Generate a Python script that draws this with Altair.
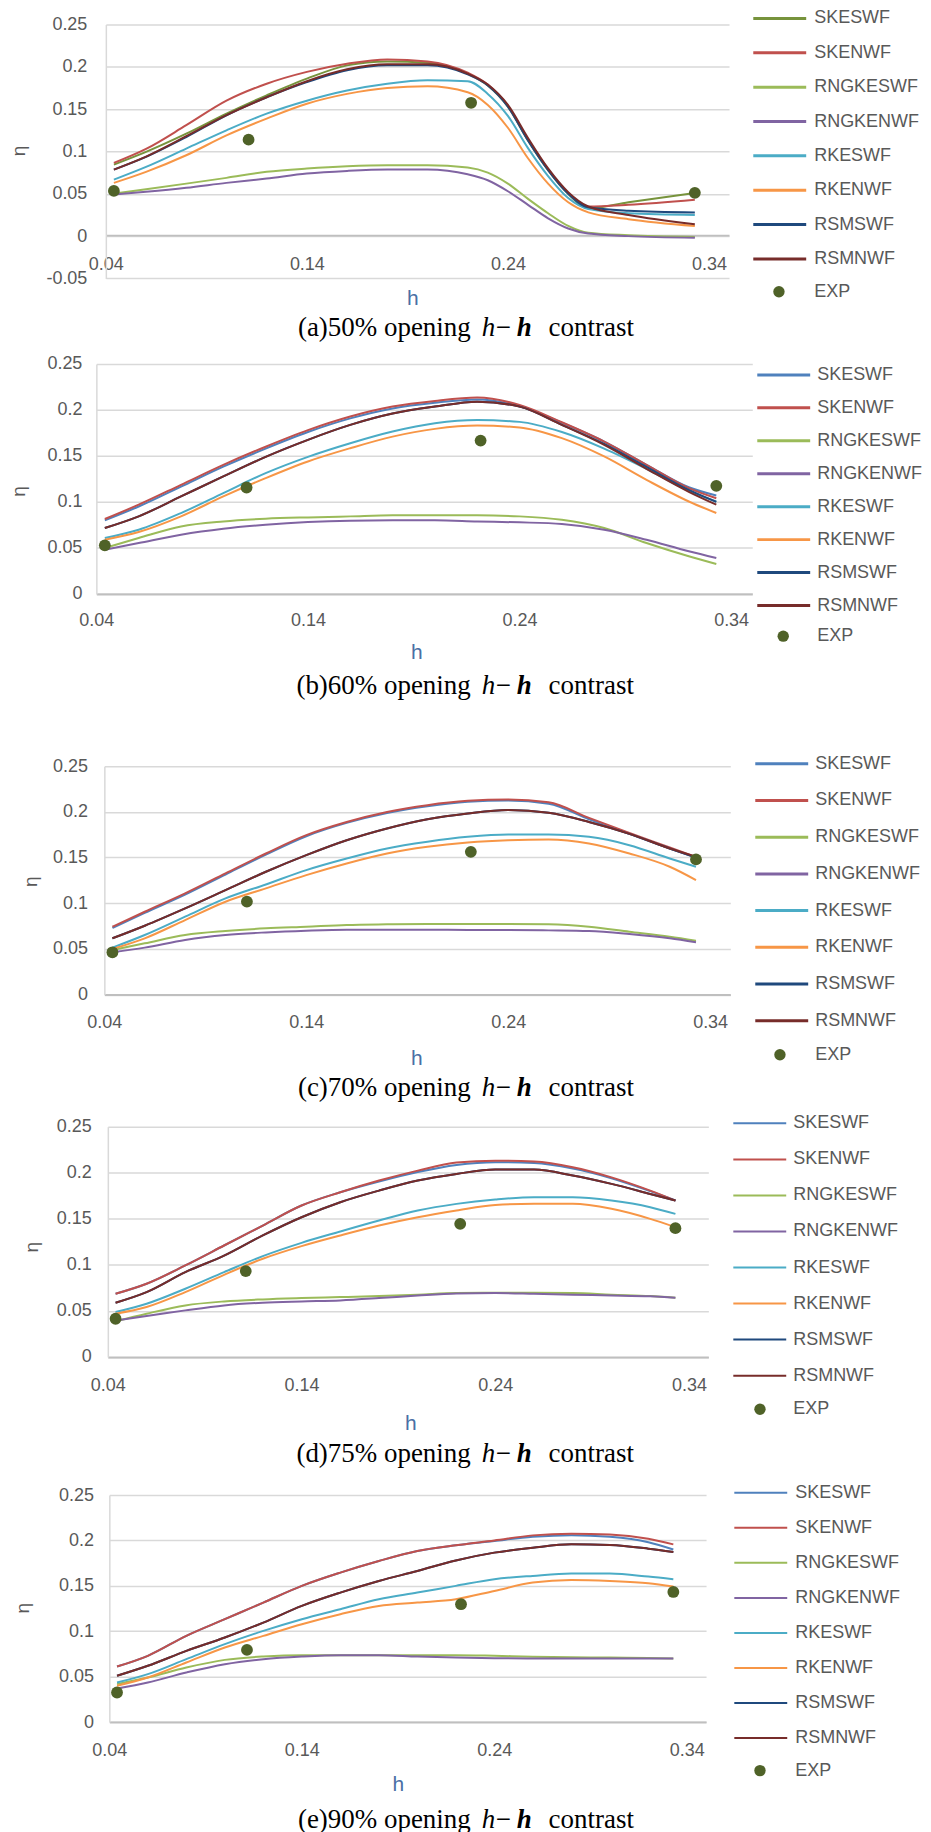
import math
import altair as alt
import pandas as pd

# ---------------- data ----------------
MODELS = ["SKESWF", "SKENWF", "RNGKESWF", "RNGKENWF", "RKESWF", "RKENWF", "RSMSWF", "RSMNWF"]
COLORS_A = ["#77933C", "#C0504D", "#9BBB59", "#8064A2", "#4BACC6", "#F79646", "#1F497D", "#772C2A"]
COLORS = ["#4F81BD", "#C0504D", "#9BBB59", "#8064A2", "#4BACC6", "#F79646", "#1F497D", "#772C2A"]
EXP_COLOR = "#4F6228"

X_TICKS = [0.04, 0.14, 0.24, 0.34]
Y_TICKS_A = [-0.05, 0, 0.05, 0.1, 0.15, 0.2, 0.25]
Y_TICKS = [0, 0.05, 0.1, 0.15, 0.2, 0.25]
CAPTION_HEADS = ["(a)50% opening", "(b)60% opening", "(c)70% opening", "(d)75% opening", "(e)90% opening"]

# (a) 50% opening
H_A = [0.044, 0.06, 0.08, 0.10, 0.12, 0.14, 0.16, 0.18, 0.20, 0.22, 0.23, 0.24, 0.25, 0.26, 0.27, 0.28, 0.30, 0.333]
ETA_A = {
    "SKESWF":   [0.0845, 0.0995, 0.121, 0.1447, 0.1663, 0.186, 0.2017, 0.2064, 0.2048, 0.192, 0.178, 0.153, 0.113, 0.078, 0.050, 0.033, 0.040, 0.051],
    "SKENWF":   [0.0865, 0.103, 0.131, 0.160, 0.180, 0.194, 0.2036, 0.2087, 0.2064, 0.193, 0.179, 0.154, 0.114, 0.079, 0.051, 0.035, 0.037, 0.043],
    "RNGKESWF": [0.0503, 0.0554, 0.062, 0.0688, 0.0759, 0.0798, 0.0825, 0.0837, 0.0837, 0.081, 0.075, 0.062, 0.044, 0.027, 0.012, 0.004, 0.001, -0.001],
    "RNGKENWF": [0.0491, 0.0523, 0.057, 0.0629, 0.068, 0.0739, 0.077, 0.0786, 0.0786, 0.073, 0.066, 0.053, 0.037, 0.021, 0.009, 0.003, 0.000, -0.002],
    "RKESWF":   [0.0668, 0.0818, 0.1034, 0.125, 0.1447, 0.160, 0.172, 0.180, 0.184, 0.183, 0.168, 0.142, 0.104, 0.071, 0.045, 0.032, 0.027, 0.025],
    "RKENWF":   [0.0629, 0.0759, 0.0955, 0.119, 0.1388, 0.1564, 0.168, 0.175, 0.177, 0.170, 0.155, 0.128, 0.092, 0.062, 0.040, 0.028, 0.020, 0.012],
    "RSMSWF":   [0.0786, 0.0936, 0.117, 0.1427, 0.164, 0.182, 0.196, 0.2017, 0.2017, 0.191, 0.178, 0.153, 0.113, 0.078, 0.050, 0.034, 0.030, 0.028],
    "RSMNWF":   [0.0786, 0.094, 0.118, 0.143, 0.164, 0.183, 0.197, 0.203, 0.203, 0.192, 0.179, 0.155, 0.116, 0.080, 0.052, 0.035, 0.025, 0.014],
}
EXP_H_A = [0.044, 0.111, 0.2217, 0.333]
EXP_ETA_A = [0.0534, 0.1139, 0.1575, 0.0511]

H_BE = [0.044, 0.06, 0.08, 0.10, 0.12, 0.14, 0.16, 0.18, 0.20, 0.22, 0.24, 0.26, 0.28, 0.30, 0.32, 0.333]

# (b) 60% opening
ETA_B = {
    "SKESWF":   [0.080, 0.095, 0.1166, 0.1383, 0.158, 0.176, 0.1908, 0.2016, 0.2078, 0.2114, 0.204, 0.186, 0.1656, 0.1403, 0.116, 0.107],
    "SKENWF":   [0.0814, 0.097, 0.1186, 0.1403, 0.160, 0.178, 0.1928, 0.2036, 0.2098, 0.2134, 0.2054, 0.1866, 0.1656, 0.1403, 0.115, 0.104],
    "RNGKESWF": [0.050, 0.0608, 0.0734, 0.0788, 0.0817, 0.0832, 0.0843, 0.0854, 0.0854, 0.0854, 0.0843, 0.0806, 0.0716, 0.0553, 0.0409, 0.0325],
    "RNGKENWF": [0.048, 0.0553, 0.0644, 0.0709, 0.0752, 0.0781, 0.0796, 0.080, 0.080, 0.0788, 0.0778, 0.076, 0.0698, 0.0589, 0.0463, 0.039],
    "RKESWF":   [0.0608, 0.0698, 0.0879, 0.1096, 0.1313, 0.149, 0.1638, 0.1765, 0.1855, 0.189, 0.187, 0.176, 0.158, 0.136, 0.112, 0.1005],
    "RKENWF":   [0.059, 0.0673, 0.0843, 0.106, 0.1259, 0.144, 0.1584, 0.171, 0.1794, 0.183, 0.181, 0.1693, 0.1494, 0.124, 0.1005, 0.088],
    "RSMSWF":   [0.0716, 0.0843, 0.106, 0.1277, 0.149, 0.1675, 0.1837, 0.196, 0.2036, 0.209, 0.2036, 0.1837, 0.163, 0.138, 0.113, 0.100],
    "RSMNWF":   [0.0716, 0.0843, 0.106, 0.1277, 0.149, 0.1675, 0.1837, 0.196, 0.2036, 0.209, 0.2036, 0.1837, 0.162, 0.136, 0.111, 0.097],
}
EXP_H_B = [0.044, 0.111, 0.2216, 0.333]
EXP_ETA_B = [0.0528, 0.1157, 0.1667, 0.1175]

# (c) 70% opening
ETA_C = {
    "SKESWF":   [0.073, 0.0895, 0.1095, 0.1315, 0.1533, 0.1734, 0.188, 0.1988, 0.2062, 0.211, 0.2125, 0.209, 0.192, 0.176, 0.160, 0.150],
    "SKENWF":   [0.0743, 0.0907, 0.1108, 0.1327, 0.1545, 0.1746, 0.189, 0.200, 0.2074, 0.2121, 0.2136, 0.2105, 0.1935, 0.177, 0.161, 0.1505],
    "RNGKESWF": [0.0488, 0.0561, 0.0652, 0.0696, 0.0725, 0.0743, 0.0762, 0.0769, 0.0773, 0.0773, 0.0773, 0.0769, 0.0743, 0.0689, 0.0634, 0.059],
    "RNGKENWF": [0.0463, 0.0514, 0.0598, 0.0652, 0.0681, 0.070, 0.0711, 0.0711, 0.0711, 0.0707, 0.0707, 0.0703, 0.0696, 0.0663, 0.0616, 0.0572],
    "RKESWF":   [0.0514, 0.0652, 0.0853, 0.1053, 0.1206, 0.1363, 0.149, 0.160, 0.1673, 0.1727, 0.1753, 0.1753, 0.1727, 0.1636, 0.149, 0.140],
    "RKENWF":   [0.050, 0.0616, 0.0816, 0.1017, 0.1163, 0.1308, 0.1436, 0.1545, 0.1618, 0.1665, 0.169, 0.1698, 0.1655, 0.1545, 0.140, 0.1254],
    "RSMSWF":   [0.0616, 0.0754, 0.0944, 0.1144, 0.1345, 0.1527, 0.169, 0.1819, 0.192, 0.1983, 0.202, 0.199, 0.189, 0.176, 0.160, 0.150],
    "RSMNWF":   [0.0616, 0.0754, 0.0944, 0.1144, 0.1345, 0.1527, 0.169, 0.1819, 0.192, 0.1983, 0.202, 0.199, 0.189, 0.176, 0.160, 0.151],
}
EXP_H_C = [0.044, 0.1106, 0.2215, 0.333]
EXP_ETA_C = [0.0463, 0.1017, 0.1563, 0.148]

# (d) 75% opening
ETA_D = {
    "SKESWF":   [0.0686, 0.0795, 0.0994, 0.121, 0.1427, 0.1644, 0.1788, 0.1905, 0.2008, 0.2085, 0.2115, 0.2105, 0.2045, 0.194, 0.180, 0.170],
    "SKENWF":   [0.0686, 0.0795, 0.0994, 0.121, 0.1427, 0.1644, 0.1788, 0.1915, 0.2023, 0.211, 0.2131, 0.2121, 0.206, 0.195, 0.1806, 0.1698],
    "RNGKESWF": [0.0387, 0.047, 0.056, 0.0603, 0.0625, 0.0639, 0.065, 0.0661, 0.0676, 0.0694, 0.0697, 0.0697, 0.0694, 0.0676, 0.0661, 0.0643],
    "RNGKENWF": [0.0397, 0.0444, 0.0506, 0.056, 0.0589, 0.0603, 0.0614, 0.0639, 0.0668, 0.069, 0.0694, 0.0686, 0.0676, 0.0668, 0.0658, 0.0643],
    "RKESWF":   [0.0488, 0.0578, 0.0741, 0.0921, 0.1095, 0.1239, 0.1362, 0.1481, 0.159, 0.1662, 0.1709, 0.1734, 0.1734, 0.1698, 0.1626, 0.1553],
    "RKENWF":   [0.047, 0.0542, 0.0704, 0.0892, 0.1066, 0.1203, 0.1319, 0.1427, 0.1517, 0.159, 0.1651, 0.1662, 0.1662, 0.1608, 0.1499, 0.1409],
    "RSMSWF":   [0.0589, 0.0704, 0.0921, 0.110, 0.132, 0.1517, 0.168, 0.1806, 0.1915, 0.1987, 0.2035, 0.2034, 0.197, 0.1879, 0.177, 0.1698],
    "RSMNWF":   [0.0589, 0.0704, 0.0921, 0.110, 0.132, 0.1517, 0.168, 0.1806, 0.1915, 0.1987, 0.2035, 0.2034, 0.197, 0.1879, 0.177, 0.1698],
}
EXP_H_D = [0.044, 0.1112, 0.2219, 0.333]
EXP_ETA_D = [0.0415, 0.0932, 0.1445, 0.1398]

# (e) 90% opening
ETA_E = {
    "SKESWF":   [0.0612, 0.073, 0.095, 0.1133, 0.1316, 0.150, 0.1646, 0.1774, 0.1884, 0.1947, 0.1995, 0.204, 0.2058, 0.204, 0.198, 0.190],
    "SKENWF":   [0.0612, 0.073, 0.095, 0.1133, 0.1316, 0.150, 0.1646, 0.1774, 0.1884, 0.1947, 0.200, 0.2056, 0.2075, 0.2067, 0.202, 0.1957],
    "RNGKESWF": [0.0418, 0.0491, 0.0601, 0.0685, 0.0722, 0.0737, 0.0737, 0.0737, 0.0737, 0.0737, 0.073, 0.072, 0.0715, 0.071, 0.0705, 0.070],
    "RNGKENWF": [0.037, 0.0436, 0.0546, 0.0638, 0.0693, 0.0722, 0.0737, 0.0737, 0.0722, 0.0711, 0.0704, 0.070, 0.070, 0.070, 0.070, 0.070],
    "RKESWF":   [0.0436, 0.0528, 0.0693, 0.0858, 0.1004, 0.1133, 0.1243, 0.1353, 0.1426, 0.150, 0.1573, 0.161, 0.1635, 0.1635, 0.1602, 0.1573],
    "RKENWF":   [0.040, 0.0491, 0.0656, 0.0821, 0.0949, 0.1078, 0.1188, 0.1279, 0.1316, 0.1353, 0.1444, 0.1536, 0.1565, 0.1554, 0.1529, 0.1492],
    "RSMSWF":   [0.051, 0.062, 0.0784, 0.0931, 0.1096, 0.128, 0.1426, 0.1554, 0.1664, 0.178, 0.1866, 0.192, 0.1957, 0.195, 0.191, 0.1873],
    "RSMNWF":   [0.051, 0.062, 0.0784, 0.0931, 0.1096, 0.128, 0.1426, 0.1554, 0.1664, 0.178, 0.1866, 0.192, 0.1957, 0.195, 0.191, 0.1873],
}
EXP_H_E = [0.044, 0.1115, 0.2227, 0.333]
EXP_ETA_E = [0.0326, 0.0795, 0.1298, 0.1433]

# ---------------- style / layout ----------------
FONT = "Liberation Sans"
SERIF = "Liberation Serif"
GREY = "#595959"
CAP_SIZE = 27
PAD_LEFT = 2.5
PAD_TOP = 1
ENTRY_H = 17.7   # measured height of one legend entry

# page-coordinate geometry of each panel
GEOM = [
    dict(left=106.5, top=23.3, width=624.2, height=254.4, xoff=-43.4, xpad=20, ypad=19,
         eta_xy=(20, 150), h_xy=(414, 298), cap_y=327,
         sym=755, lab=816, row1=17.3, rs=34.1, lsw=3, exp=(780.7, 291)),
    dict(left=97, top=362.3, width=657, height=230.4, xoff=0, xpad=17.5, ypad=14.5,
         eta_xy=(20, 490), h_xy=(418, 651.7), cap_y=685,
         sym=759, lab=819, row1=373.3, rs=32.7, lsw=3, exp=(785, 635)),
    dict(left=105, top=764.3, width=627, height=228.7, xoff=0, xpad=19.2, ypad=16.8,
         eta_xy=(32, 880), h_xy=(418, 1058), cap_y=1086.7,
         sym=757, lab=817, row1=761.7, rs=36.5, lsw=3, exp=(781.7, 1053.3)),
    dict(left=108.5, top=1124.3, width=601.5, height=230.7, xoff=0, xpad=19.5, ypad=16.7,
         eta_xy=(33, 1245), h_xy=(412, 1421.7), cap_y=1451.7,
         sym=735, lab=795, row1=1121, rs=35.8, lsw=2, exp=(761.7, 1407.3)),
    dict(left=110, top=1492.3, width=597.7, height=227.4, xoff=0, xpad=19.2, ypad=15.9,
         eta_xy=(24, 1605.7), h_xy=(399.4, 1782.7), cap_y=1818,
         sym=736, lab=797, row1=1490, rs=34.8, lsw=2, exp=(761.7, 1768.3)),
]
MIN_LEFT = min(g["left"] for g in GEOM)

Y_LABEL_EXPR = "datum.value < 0 ? '-' + format(-datum.value, '~g') : format(datum.value, '~g')"


def text_layer(txt, x, y, size, font, color, angle=0, align="center", style="normal", weight="normal"):
    kw = dict(fontSize=size, font=font, color=color, align=align, baseline="middle",
              fontStyle=style, fontWeight=weight)
    if angle:
        kw["angle"] = angle
    return alt.Chart(pd.DataFrame({"t": [txt]})).mark_text(**kw).encode(
        text="t:N", x=alt.value(x), y=alt.value(y))


def make_panel(h, eta, exp_h, exp_eta, colors, ydomain, yticks, head, g):
    rows = []
    for m in MODELS:
        for hv, ev in zip(h, eta[m]):
            rows.append({"h": hv, "eta": ev, "model": m})
    df = pd.DataFrame(rows)
    dexp = pd.DataFrame({"h": exp_h, "eta": exp_eta, "kind": ["EXP"] * len(exp_h)})

    # group origin sits at MIN_LEFT (page); plot area starts dx further right
    dx = g["left"] - MIN_LEFT
    O, T = MIN_LEFT, g["top"]
    xs = alt.Scale(domain=[0.04, 0.35], nice=False, zero=False, range=[dx, dx + g["width"]])
    ys = alt.Scale(domain=ydomain, nice=False, zero=False)
    xaxis = alt.Axis(values=X_TICKS, format=".2f", grid=False, ticks=False, domain=True,
                     domainColor="#BFBFBF", domainWidth=2, labelFontSize=18, labelFont=FONT,
                     labelColor=GREY, labelPadding=g["xpad"], offset=g["xoff"], title=None,
                     labelFlush=False, labelOverlap=False)
    yaxis = alt.Axis(values=yticks, grid=True, gridColor="#D9D9D9", gridWidth=1.5, ticks=False,
                     domain=True, domainColor="#D9D9D9", domainWidth=1.5, labelFontSize=18,
                     labelFont=FONT, labelColor=GREY, labelPadding=g["ypad"], offset=-dx,
                     labelExpr=Y_LABEL_EXPR, title=None, labelFlush=False, labelOverlap=False)

    size = max(math.ceil(53 + g["lsw"]), 18)
    leg_x_page = g["sym"] - (size / 2 - 26.5)
    color_legend = alt.Legend(
        orient="none", legendX=leg_x_page - O, legendY=g["row1"] - 8 - T, title=None,
        symbolType="stroke", symbolSize=2809, symbolStrokeWidth=g["lsw"], clipHeight=16,
        rowPadding=g["rs"] - ENTRY_H, labelFontSize=18, labelFont=FONT, labelColor=GREY,
        labelOffset=g["lab"] - leg_x_page - size, padding=0)
    ex, ey = g["exp"]
    shape_legend = alt.Legend(
        orient="none", legendX=ex - 9 - O, legendY=ey - 9 - T, title=None,
        symbolSize=130, symbolFillColor=EXP_COLOR, symbolStrokeColor=EXP_COLOR,
        symbolStrokeWidth=0, labelFontSize=18, labelFont=FONT, labelColor=GREY,
        labelOffset=g["lab"] - (ex - 9) - 18, padding=0)

    lines = alt.Chart(df).mark_line(strokeWidth=2, interpolate="monotone").encode(
        x=alt.X("h:Q", scale=xs, axis=xaxis),
        y=alt.Y("eta:Q", scale=ys, axis=yaxis),
        color=alt.Color("model:N", scale=alt.Scale(domain=MODELS, range=colors), legend=color_legend),
    )
    pts = alt.Chart(dexp).mark_point(filled=True, size=140, opacity=1, color=EXP_COLOR).encode(
        x=alt.X("h:Q", scale=xs, axis=xaxis),
        y=alt.Y("eta:Q", scale=ys, axis=yaxis),
        shape=alt.Shape("kind:N", scale=alt.Scale(domain=["EXP"], range=["circle"]), legend=shape_legend),
    )
    cy = g["cap_y"] - T
    texts = [
        text_layer("η", g["eta_xy"][0] - O, g["eta_xy"][1] - T, 19, FONT, GREY, angle=270),
        text_layer("h", g["h_xy"][0] - O, g["h_xy"][1] - T, 21, FONT, "#4A6FA5"),
        text_layer(head, 472 - O, cy, CAP_SIZE, SERIF, "#000000", align="right"),
        text_layer("h", 483 - O, cy, CAP_SIZE, SERIF, "#000000", align="left", style="italic"),
        text_layer("−", 497 - O, cy, CAP_SIZE, SERIF, "#000000", align="left"),
        text_layer("h", 518 - O, cy, CAP_SIZE, SERIF, "#000000", align="left", style="italic", weight="bold"),
        text_layer("contrast", 550 - O, cy, CAP_SIZE, SERIF, "#000000", align="left"),
    ]
    return alt.layer(lines, pts, *texts).properties(width=dx + g["width"], height=g["height"])


def spacer(w, h):
    return alt.Chart(pd.DataFrame({"z": [0]})).mark_point(opacity=0).encode(
        x=alt.X("z:Q", axis=None), y=alt.Y("z:Q", axis=None)).properties(width=w, height=h)


panels = [
    make_panel(H_A, ETA_A, EXP_H_A, EXP_ETA_A, COLORS_A, [-0.05, 0.25], Y_TICKS_A, CAPTION_HEADS[0], GEOM[0]),
    make_panel(H_BE, ETA_B, EXP_H_B, EXP_ETA_B, COLORS, [0, 0.25], Y_TICKS, CAPTION_HEADS[1], GEOM[1]),
    make_panel(H_BE, ETA_C, EXP_H_C, EXP_ETA_C, COLORS, [0, 0.25], Y_TICKS, CAPTION_HEADS[2], GEOM[2]),
    make_panel(H_BE, ETA_D, EXP_H_D, EXP_ETA_D, COLORS, [0, 0.25], Y_TICKS, CAPTION_HEADS[3], GEOM[3]),
    make_panel(H_BE, ETA_E, EXP_H_E, EXP_ETA_E, COLORS, [0, 0.25], Y_TICKS, CAPTION_HEADS[4], GEOM[4]),
]

items = []
for i, (p, g) in enumerate(zip(panels, GEOM)):
    items.append(p)
    if i < len(GEOM) - 1:
        gap = GEOM[i + 1]["top"] - (g["top"] + g["height"])
        items.append(spacer(1, gap))

chart = alt.vconcat(*items, spacing=0, bounds="flush").resolve_scale(
    color="independent", shape="independent"
).properties(
    padding={"left": PAD_LEFT, "top": PAD_TOP, "right": 0, "bottom": 0}
).configure_view(stroke=None)

chart.save("out.html", embed_options={"renderer": "svg", "actions": False})
